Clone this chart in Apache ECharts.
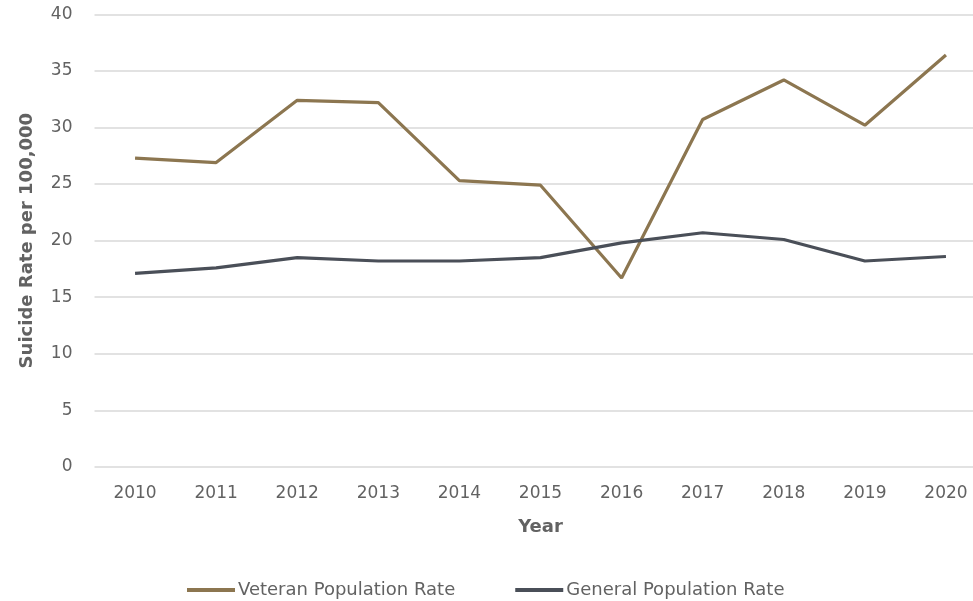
<!DOCTYPE html>
<html><head><meta charset="utf-8">
<script src="https://cdn.jsdelivr.net/npm/echarts@6/dist/echarts.min.js"></script>
<style>html,body{margin:0;padding:0;background:#fff;overflow:hidden}#c{width:990px;height:601px}</style>
</head><body><div id="c"></div>
<script>
const years = ['2010','2011','2012','2013','2014','2015','2016','2017','2018','2019','2020'];
const veteranRate = [27.3, 26.9, 32.4, 32.2, 25.3, 24.9, 16.7, 30.7, 34.2, 30.2, 36.4];
const generalRate = [17.1, 17.6, 18.5, 18.2, 18.2, 18.5, 19.8, 20.7, 20.1, 18.2, 18.6];
const seriesNames = ['Veteran Population Rate', 'General Population Rate'];

const chart = echarts.init(document.getElementById('c'));
const font = 'DejaVu Sans, Liberation Sans, Arial, sans-serif';
const txt = '#626262';
chart.setOption({
  animation: false,
  textStyle: { fontFamily: font },
  grid: { left: 94.5, right: 3.5, top: 14.3, height: 452.7 },
  legend: {
    top: 576, left: 182, itemGap: 60, itemWidth: 48, itemHeight: 4,
    textStyle: { color: txt, fontSize: 18, fontFamily: font, padding: [0, 0, 0, -2] },
    icon: 'rect',
    data: seriesNames
  },
  xAxis: {
    type: 'category', data: years, boundaryGap: true,
    name: 'Year', nameLocation: 'middle', nameGap: 51,
    nameTextStyle: { fontWeight: 'bold', fontSize: 18, color: txt, fontFamily: font },
    axisLine: { show: false }, axisTick: { show: false },
    axisLabel: { color: txt, fontSize: 17, margin: 18, fontFamily: font }
  },
  yAxis: {
    type: 'value', min: 0, max: 40, interval: 5,
    name: 'Suicide Rate per 100,000', nameLocation: 'middle', nameGap: 58,
    nameTextStyle: { fontWeight: 'bold', fontSize: 18, color: txt, fontFamily: font },
    axisLine: { show: false }, axisTick: { show: false },
    axisLabel: { color: txt, fontSize: 17, margin: 22, fontFamily: font },
    splitLine: { lineStyle: { color: '#d9d9d9', width: 1.5 } }
  },
  series: [
    { name: seriesNames[0], type: 'line', data: veteranRate, symbol: 'none',
      lineStyle: { color: '#8c7650', width: 3.2 }, itemStyle: { color: '#8c7650' } },
    { name: seriesNames[1], type: 'line', data: generalRate, symbol: 'none',
      lineStyle: { color: '#4a4f58', width: 3.2 }, itemStyle: { color: '#4a4f58' } }
  ]
});
</script></body></html>
